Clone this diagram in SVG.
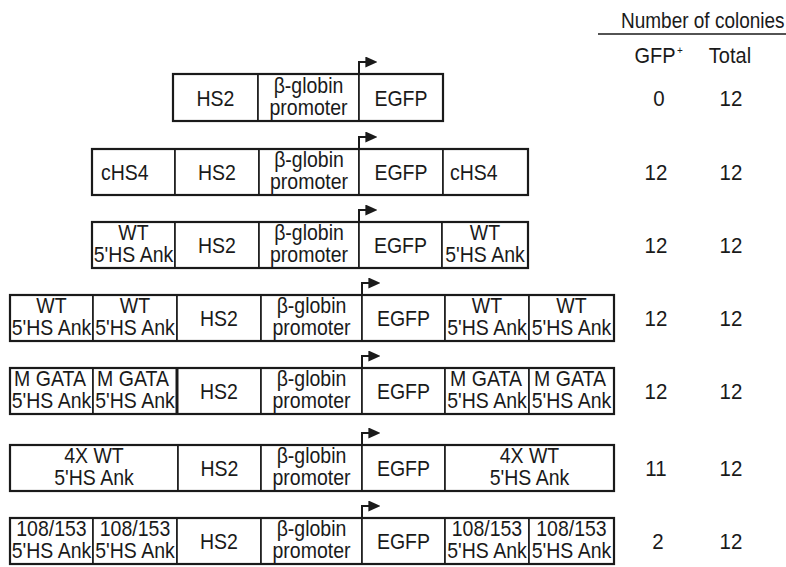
<svg xmlns="http://www.w3.org/2000/svg" width="786" height="567" viewBox="0 0 786 567">
<style>
text{font-family:"Liberation Sans",Arial,sans-serif;font-size:19.5px;fill:#1a1a1a;transform-box:fill-box;transform-origin:50% 50%;transform:scaleY(1.12)}
.c{text-anchor:middle}
.s{text-anchor:start}
.cell{fill:#fff;stroke:#1a1a1a;stroke-width:1.6}
.out{fill:none;stroke:#1a1a1a;stroke-width:2.2}
.arr{fill:none;stroke:#1a1a1a;stroke-width:2}
.num{text-anchor:middle;font-size:20.5px}
.hd{font-size:20px}
</style>
<defs>
<marker id="ah" viewBox="0 0 10 10" refX="8" refY="5" markerWidth="12" markerHeight="11" markerUnits="userSpaceOnUse" orient="auto" preserveAspectRatio="none"><path d="M0,0 L10,5 L0,10 z" fill="#1a1a1a"/></marker>
</defs>
<rect width="786" height="567" fill="#fff"/>

<g id="header">
<text x="621" y="27" class="s" style="font-size:19px">Number of colonies</text>
<line x1="598" y1="34" x2="786" y2="34" stroke="#1a1a1a" stroke-width="1.5"/>
<text x="655" y="62" class="c hd">GFP</text>
<text x="677" y="54" class="s" style="font-size:10px">+</text>
<text x="730" y="62" class="c hd">Total</text>
</g>

<g id="row1">
<rect class="cell" x="173" y="74" width="85" height="47"/>
<rect class="cell" x="258" y="74" width="101" height="47"/>
<rect class="cell" x="359" y="74" width="84" height="47"/>
<rect class="out" x="173" y="74" width="270" height="47"/>
<text x="215.5" y="105" class="c">HS2</text>
<text x="308.5" y="92" class="c">β-globin</text>
<text x="308.5" y="114.5" class="c">promoter</text>
<text x="401" y="105" class="c">EGFP</text>
<text x="659" y="105" class="num">0</text>
<text x="731" y="105" class="num">12</text>
</g>

<g id="row2">
<rect class="cell" x="92" y="149" width="83" height="46"/>
<rect class="cell" x="175" y="149" width="84" height="46"/>
<rect class="cell" x="259" y="149" width="100" height="46"/>
<rect class="cell" x="359" y="149" width="84" height="46"/>
<rect class="cell" x="443" y="149" width="85" height="46"/>
<rect class="out" x="92" y="149" width="436" height="46"/>
<text x="101" y="179" class="s">cHS4</text>
<text x="217" y="179" class="c">HS2</text>
<text x="309" y="166" class="c">β-globin</text>
<text x="309" y="188.5" class="c">promoter</text>
<text x="401" y="179" class="c">EGFP</text>
<text x="450" y="179" class="s">cHS4</text>
<text x="656" y="179" class="num">12</text>
<text x="731" y="179" class="num">12</text>
</g>

<g id="row3">
<rect class="cell" x="92" y="222" width="83" height="46"/>
<rect class="cell" x="175" y="222" width="84" height="46"/>
<rect class="cell" x="259" y="222" width="100" height="46"/>
<rect class="cell" x="359" y="222" width="83" height="46"/>
<rect class="cell" x="442" y="222" width="86" height="46"/>
<rect class="out" x="92" y="222" width="436" height="46"/>
<text x="133.5" y="239" class="c">WT</text>
<text x="133.5" y="261" class="c">5'HS Ank</text>
<text x="217" y="252" class="c">HS2</text>
<text x="309" y="239" class="c">β-globin</text>
<text x="309" y="261" class="c">promoter</text>
<text x="400.5" y="252" class="c">EGFP</text>
<text x="485" y="239" class="c">WT</text>
<text x="485" y="261" class="c">5'HS Ank</text>
<text x="656" y="252" class="num">12</text>
<text x="731" y="252" class="num">12</text>
</g>

<g id="row4">
<rect class="cell" x="10" y="295" width="83" height="46"/>
<rect class="cell" x="93" y="295" width="84" height="46"/>
<rect class="cell" x="177" y="295" width="84" height="46"/>
<rect class="cell" x="261" y="295" width="101" height="46"/>
<rect class="cell" x="362" y="295" width="83" height="46"/>
<rect class="cell" x="445" y="295" width="84" height="46"/>
<rect class="cell" x="529" y="295" width="85" height="46"/>
<rect class="out" x="10" y="295" width="604" height="46"/>
<text x="51.5" y="312" class="c">WT</text>
<text x="51.5" y="334" class="c">5'HS Ank</text>
<text x="135" y="312" class="c">WT</text>
<text x="135" y="334" class="c">5'HS Ank</text>
<text x="219" y="325" class="c">HS2</text>
<text x="311.5" y="312" class="c">β-globin</text>
<text x="311.5" y="334" class="c">promoter</text>
<text x="403.5" y="325" class="c">EGFP</text>
<text x="487" y="312" class="c">WT</text>
<text x="487" y="334" class="c">5'HS Ank</text>
<text x="571.5" y="312" class="c">WT</text>
<text x="571.5" y="334" class="c">5'HS Ank</text>
<text x="656" y="325" class="num">12</text>
<text x="731" y="325" class="num">12</text>
</g>

<g id="row5">
<rect class="cell" x="10" y="368" width="83" height="46"/>
<rect class="cell" x="93" y="368" width="84" height="46"/>
<rect class="cell" x="177" y="368" width="84" height="46"/>
<rect class="cell" x="261" y="368" width="101" height="46"/>
<rect class="cell" x="362" y="368" width="83" height="46"/>
<rect class="cell" x="445" y="368" width="84" height="46"/>
<rect class="cell" x="529" y="368" width="85" height="46"/>
<rect class="out" x="10" y="368" width="604" height="46"/>
<line x1="177" y1="368" x2="177" y2="414" stroke="#1a1a1a" stroke-width="3"/>
<text x="50" y="385" class="c">M GATA</text>
<text x="51.5" y="407" class="c">5'HS Ank</text>
<text x="133" y="385" class="c">M GATA</text>
<text x="135" y="407" class="c">5'HS Ank</text>
<text x="219" y="398" class="c">HS2</text>
<text x="311.5" y="385" class="c">β-globin</text>
<text x="311.5" y="407" class="c">promoter</text>
<text x="403.5" y="398" class="c">EGFP</text>
<text x="486" y="385" class="c">M GATA</text>
<text x="487" y="407" class="c">5'HS Ank</text>
<text x="570" y="385" class="c">M GATA</text>
<text x="571.5" y="407" class="c">5'HS Ank</text>
<text x="656" y="398" class="num">12</text>
<text x="731" y="398" class="num">12</text>
</g>

<g id="row6">
<rect class="cell" x="10" y="445" width="168" height="46"/>
<rect class="cell" x="178" y="445" width="83" height="46"/>
<rect class="cell" x="261" y="445" width="101" height="46"/>
<rect class="cell" x="362" y="445" width="83" height="46"/>
<rect class="cell" x="445" y="445" width="169" height="46"/>
<rect class="out" x="10" y="445" width="604" height="46"/>
<text x="94" y="462" class="c">4X WT</text>
<text x="94" y="484" class="c">5'HS Ank</text>
<text x="219.5" y="475" class="c">HS2</text>
<text x="311.5" y="462" class="c">β-globin</text>
<text x="311.5" y="484" class="c">promoter</text>
<text x="403.5" y="475" class="c">EGFP</text>
<text x="529.5" y="462" class="c">4X WT</text>
<text x="529.5" y="484" class="c">5'HS Ank</text>
<text x="656" y="475" class="num">11</text>
<text x="731" y="475" class="num">12</text>
</g>

<g id="row7">
<rect class="cell" x="10" y="518" width="83" height="46"/>
<rect class="cell" x="93" y="518" width="84" height="46"/>
<rect class="cell" x="177" y="518" width="84" height="46"/>
<rect class="cell" x="261" y="518" width="101" height="46"/>
<rect class="cell" x="362" y="518" width="83" height="46"/>
<rect class="cell" x="445" y="518" width="84" height="46"/>
<rect class="cell" x="529" y="518" width="85" height="46"/>
<rect class="out" x="10" y="518" width="604" height="46"/>
<text x="51.5" y="535" class="c">108/153</text>
<text x="51.5" y="557" class="c">5'HS Ank</text>
<text x="135" y="535" class="c">108/153</text>
<text x="135" y="557" class="c">5'HS Ank</text>
<text x="219" y="548" class="c">HS2</text>
<text x="311.5" y="535" class="c">β-globin</text>
<text x="311.5" y="557" class="c">promoter</text>
<text x="403.5" y="548" class="c">EGFP</text>
<text x="487" y="535" class="c">108/153</text>
<text x="487" y="557" class="c">5'HS Ank</text>
<text x="571.5" y="535" class="c">108/153</text>
<text x="571.5" y="557" class="c">5'HS Ank</text>
<text x="658" y="548" class="num">2</text>
<text x="731" y="548" class="num">12</text>
</g>

<g id="connectors">
<path class="arr" marker-end="url(#ah)" d="M359,74 V62 H375"/>
<path class="arr" marker-end="url(#ah)" d="M359,149 V137 H375"/>
<path class="arr" marker-end="url(#ah)" d="M359,222 V210 H375"/>
<path class="arr" marker-end="url(#ah)" d="M362,295 V283 H378"/>
<path class="arr" marker-end="url(#ah)" d="M362,368 V356 H378"/>
<path class="arr" marker-end="url(#ah)" d="M362,445 V433 H378"/>
<path class="arr" marker-end="url(#ah)" d="M362,518 V506 H378"/>
</g>
</svg>
